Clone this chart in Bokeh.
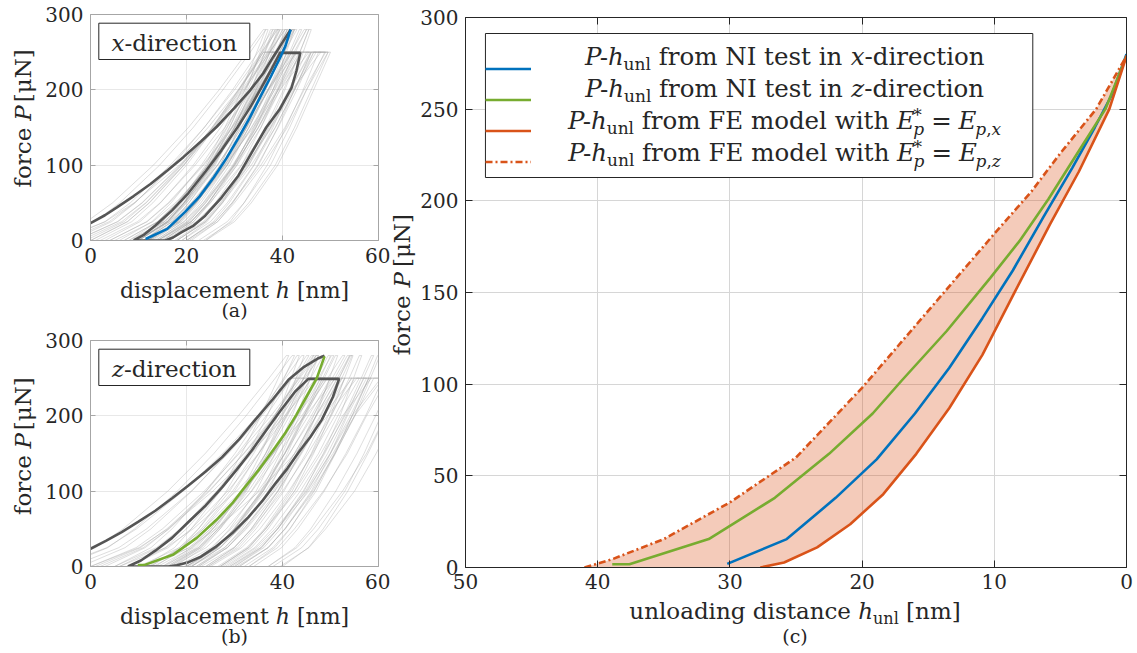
import math
from bokeh.plotting import figure
from bokeh.models import (Range1d, Label, LinearAxis, FixedTicker, BoxAnnotation,
                          Legend, LegendItem)
from bokeh.layouts import row, column
from bokeh.embed import file_html
from bokeh.resources import INLINE

FONT = "DejaVu Serif"
INK = "#262626"
BLUE = "#0072BD"
GREEN = "#77AC30"
RED = "#D95319"
LIGHT = "#a8a8a8"
DARK = "#555555"

# ---------------- data: panel (c) unloading curves ----------------
HUNL_NI_X = [30.2, 25.7, 22.0, 18.9, 16.0, 13.4, 10.9, 8.6, 6.3, 4.1, 2.4, 1.1, 0.0]
P_NI_X = [2.0, 15.5, 38.0, 59.0, 84.0, 109.0, 136.0, 162.0, 191.0, 218.0, 240.0, 258.0, 280.0]
HUNL_NI_Z = [38.9, 37.6, 31.6, 26.6, 22.5, 19.2, 17.0, 13.6, 10.3, 8.1, 5.9, 3.8, 1.6, 0.0]
P_NI_Z = [1.8, 1.8, 15.5, 38.0, 62.0, 84.0, 102.0, 129.0, 158.0, 178.0, 201.0, 225.0, 250.0, 279.0]
HUNL_FE_X = [27.7, 25.9, 23.4, 20.9, 18.4, 15.9, 13.4, 10.9, 8.4, 5.8, 3.6, 1.3, 0.0]
P_FE_X = [0.0, 2.7, 11.0, 23.6, 40.0, 62.0, 87.0, 116.0, 151.0, 187.0, 216.0, 250.0, 279.0]
HUNL_FE_Z = [41.0, 38.9, 35.0, 30.0, 25.0, 20.0, 15.0, 10.0, 7.2, 5.0, 2.3, 0.0]
P_FE_Z = [0.0, 4.5, 15.5, 35.5, 60.0, 98.0, 140.0, 182.0, 205.0, 226.0, 250.0, 279.0]

# maximum indentation depth of the highlighted tests (panels a, b)
HMAX_X = 41.7
HMAX_Z = 48.75

# ---------------- data: panels (a), (b) highlighted tests ----------------
DARK_A1_H = [0.0, 3.0, 5.5, 9.0, 12.5, 16.0, 19.4, 23.0, 26.3, 30.0, 33.2, 36.0, 38.1, 40.0, 41.7]
DARK_A1_P = [23.0, 33.5, 44.0, 59.0, 75.0, 93.0, 111.0, 131.5, 151.0, 176.0, 199.0, 222.0, 244.0, 263.0, 280.0]
DARK_A2_H = [9.0, 11.0, 13.5, 17.0, 20.4, 24.0, 27.3, 30.6, 33.2, 35.6, 37.6, 39.5, 43.7,
             42.9, 41.9, 39.5, 36.6, 33.7, 30.8, 27.3, 23.9, 21.3, 19.0, 17.2, 15.6, 9.0]
DARK_A2_P = [0.0, 7.0, 20.0, 40.0, 63.0, 92.0, 120.0, 150.0, 176.0, 203.0, 226.0, 249.0, 249.0,
             225.0, 203.0, 175.0, 150.0, 118.0, 86.0, 57.0, 33.0, 19.0, 11.0, 4.0, 0.0, 0.0]

DARK_B1_H = [0.0, 3.2, 6.5, 10.0, 13.5, 17.0, 20.4, 24.0, 27.4, 31.0, 34.3, 38.0, 41.25, 44.5, 47.5, 48.75]
DARK_B1_P = [23.5, 34.0, 45.6, 59.5, 74.0, 90.5, 107.5, 126.0, 145.0, 169.0, 194.7, 222.0, 247.8, 265.0, 276.5, 280.0]
DARK_B2_H = [7.8, 10.5, 13.5, 17.0, 20.4, 24.0, 27.4, 30.5, 33.6, 36.5, 39.5, 42.6, 45.4, 51.8,
             50.5, 48.2, 45.8, 43.3, 41.0, 38.5, 35.8, 32.9, 29.5, 26.0, 23.0, 20.4, 18.0, 16.25, 7.8]
DARK_B2_P = [0.0, 8.0, 21.0, 38.0, 59.0, 81.0, 105.0, 129.0, 154.0, 180.0, 206.0, 232.0, 249.0, 249.0,
             225.0, 195.0, 172.0, 151.0, 130.0, 110.0, 87.0, 65.5, 44.0, 25.7, 13.0, 5.8, 1.5, 0.0, 0.0]

# ---------------- data: panels (a), (b) all other tests (light) ----------------
LEVELS_280 = [0, 25, 50, 100, 150, 200, 250, 280]
LEVELS_250 = [0, 25, 50, 100, 150, 200, 250]
UNLOAD_LEVELS = [200, 150, 100, 50, 25, 0]

# (loading h at levels, h at end of hold, unloading h at UNLOAD_LEVELS)
A280 = [
    ([-8, 0.9, 6.1, 14.4, 21.4, 27.6, 33.3, 36.5], 37.0, [32.5, 29.0, 25.0, 19.5, 16.0, 10.0]),
    ([-4, 4.4, 9.3, 17.1, 23.7, 29.6, 34.9, 38.0], 38.5, [32.8, 28.9, 24.3, 18.5, 15.0, 8.5]),
    ([0, 7.7, 12.2, 19.4, 25.4, 30.8, 35.7, 38.5], 39.0, [34.5, 31.0, 27.0, 21.5, 18.0, 12.0]),
    ([3, 10.3, 14.6, 21.4, 27.1, 32.2, 36.8, 39.5], 40.0, [34.3, 30.4, 25.8, 20.0, 16.5, 10.0]),
    ([6, 12.8, 16.8, 23.1, 28.4, 33.2, 37.5, 40.0], 40.5, [36.0, 32.5, 28.5, 23.0, 19.5, 13.5]),
    ([-2, 6.5, 11.5, 19.4, 26.1, 32.0, 37.4, 40.5], 41.0, [34.0, 29.5, 24.5, 18.0, 14.0, 8.0]),
    ([10, 16.2, 19.8, 25.6, 30.5, 34.8, 38.7, 41.0], 41.5, [35.8, 31.9, 27.3, 21.5, 18.0, 11.5]),
    ([13, 18.8, 22.2, 27.6, 32.1, 36.2, 39.9, 42.0], 42.5, [38.0, 34.5, 30.5, 25.0, 21.5, 15.5]),
    ([4, 11.7, 16.2, 23.4, 29.4, 34.8, 39.7, 42.5], 43.0, [36.0, 31.5, 26.5, 20.0, 16.0, 10.0]),
    ([16, 21.5, 24.7, 29.8, 34.2, 38.0, 41.5, 43.5], 44.0, [38.3, 34.4, 29.8, 24.0, 20.5, 14.0]),
    ([8, 15.3, 19.6, 26.4, 32.1, 37.2, 41.8, 44.5], 45.0, [38.0, 33.5, 28.5, 22.0, 18.0, 12.0]),
    ([19, 24.3, 27.4, 32.3, 36.5, 40.2, 43.6, 45.5], 46.0, [41.5, 38.0, 34.0, 28.5, 25.0, 19.0]),
    ([-6, 3.0, 8.3, 16.6, 23.7, 30.0, 35.7, 39.0], 39.5, [33.8, 29.9, 25.3, 19.5, 16.0, 9.5]),
    ([11, 16.3, 19.4, 24.3, 28.5, 32.2, 35.6, 37.5], 38.0, [33.5, 30.0, 26.0, 20.5, 17.0, 11.0]),
    ([-10, -0.8, 4.6, 13.1, 20.4, 26.8, 32.6, 36.0], 36.5, [31.5, 28.0, 24.0, 18.5, 15.0, 9.0]),
    ([1, 8.6, 13.0, 20.0, 25.9, 31.2, 36.0, 38.8], 39.3, [33.3, 29.4, 24.8, 19.0, 15.5, 9.0]),
    ([7, 14.0, 18.1, 24.6, 30.1, 35.0, 39.4, 42.0], 42.5, [37.0, 33.0, 28.5, 22.5, 19.0, 12.5]),
    ([14, 20.2, 23.8, 29.6, 34.5, 38.8, 42.7, 45.0], 45.5, [40.5, 37.0, 33.0, 27.5, 24.0, 18.0]),
    ([-3, 5.7, 10.8, 18.9, 25.7, 31.8, 37.3, 40.5], 41.0, [36.0, 32.5, 28.0, 22.0, 18.5, 12.0]),
    ([9, 15.5, 19.4, 25.5, 30.6, 35.2, 39.4, 41.8], 42.3, [36.3, 32.3, 27.8, 22.0, 18.5, 12.0]),
]
A250 = [
    ([-3, 5.6, 10.7, 18.7, 25.4, 31.5, 37.0], 40.0, [36.5, 33.0, 29.0, 23.5, 20.0, 14.0]),
    ([2, 9.8, 14.5, 21.8, 28.0, 33.5, 38.5], 41.5, [37.0, 33.0, 28.0, 22.0, 18.5, 12.5]),
    ([7, 14.0, 18.1, 24.6, 30.1, 35.0, 39.5], 42.5, [39.0, 35.5, 31.5, 26.0, 22.5, 16.5]),
    ([-7, 3.1, 9.1, 18.5, 26.4, 33.5, 40.0], 43.0, [37.0, 32.5, 27.5, 21.0, 17.0, 11.0]),
    ([12, 18.2, 21.9, 27.7, 32.6, 37.0, 41.0], 44.0, [39.5, 35.5, 30.5, 24.5, 21.0, 15.0]),
    ([5, 13.0, 17.7, 25.1, 31.3, 36.9, 42.0], 45.5, [39.5, 35.0, 30.0, 23.5, 19.5, 13.5]),
    ([15, 21.0, 24.6, 30.2, 34.9, 39.1, 43.0], 46.0, [42.5, 39.0, 35.0, 29.5, 26.0, 20.0]),
    ([9, 16.5, 21.0, 28.0, 33.9, 39.2, 44.0], 47.0, [42.5, 38.5, 33.5, 27.5, 24.0, 18.0]),
    ([18, 23.8, 27.2, 32.7, 37.2, 41.3, 45.0], 48.0, [42.0, 37.5, 32.5, 26.0, 22.0, 16.0]),
    ([21, 26.5, 29.7, 34.8, 39.1, 43.0, 46.5], 49.5, [46.0, 42.5, 38.5, 33.0, 29.5, 23.5]),
    ([14, 20.9, 24.9, 31.4, 36.8, 41.6, 46.0], 49.0, [44.5, 40.5, 35.5, 29.5, 26.0, 20.0]),
    ([0, 7.7, 12.3, 19.5, 25.6, 31.0, 36.0], 39.0, [34.5, 30.5, 25.5, 19.5, 16.0, 10.0]),
    ([24, 29.1, 32.0, 36.8, 40.7, 44.3, 47.5], 50.0, [46.5, 43.0, 39.0, 33.5, 30.0, 24.0]),
    ([10, 16.0, 19.6, 25.2, 29.9, 34.1, 38.0], 41.0, [37.5, 34.0, 30.0, 24.5, 21.0, 15.0]),
    ([-5, 3.9, 9.2, 17.5, 24.5, 30.8, 36.5], 39.5, [35.5, 31.5, 26.5, 20.5, 17.0, 11.0]),
    ([4, 11.8, 16.4, 23.6, 29.6, 35.1, 40.2], 43.5, [39.0, 35.0, 30.0, 24.0, 20.5, 14.5]),
    ([11, 17.9, 21.9, 28.3, 33.6, 38.4, 42.8], 45.8, [41.5, 37.5, 33.0, 27.0, 23.5, 17.5]),
    ([16, 22.6, 26.5, 32.5, 37.7, 42.3, 46.5], 49.5, [45.0, 41.0, 36.0, 30.0, 26.5, 20.5]),
    ([20, 25.6, 28.9, 34.1, 38.5, 42.5, 46.0], 48.8, [45.0, 41.5, 37.5, 32.0, 28.5, 22.5]),
    ([-1, 7.0, 11.6, 19.0, 25.3, 30.9, 36.0], 38.5, [34.5, 31.0, 27.0, 21.5, 18.0, 12.0]),
]
B280 = [
    ([-6, 3.6, 9.2, 18.1, 25.7, 32.4, 38.5, 42.0], 42.5, [36.8, 32.9, 28.3, 22.5, 19.0, 12.5]),
    ([-2, 7.2, 12.6, 21.1, 28.4, 34.8, 40.6, 44.0], 44.5, [40.0, 36.5, 32.5, 27.0, 23.5, 17.5]),
    ([3, 11.4, 16.3, 24.1, 30.7, 36.6, 41.9, 45.0], 45.5, [38.5, 34.0, 29.0, 22.5, 18.5, 12.5]),
    ([8, 15.6, 20.0, 27.1, 33.1, 38.4, 43.2, 46.0], 46.5, [40.8, 36.9, 32.3, 26.5, 23.0, 16.5]),
    ([12, 19.0, 23.1, 29.6, 35.1, 40.0, 44.4, 47.0], 47.5, [43.0, 39.5, 35.5, 30.0, 26.5, 20.5]),
    ([1, 10.4, 15.9, 24.6, 32.0, 38.6, 44.6, 48.0], 48.5, [41.5, 37.0, 32.0, 25.5, 21.5, 15.5]),
    ([16, 22.7, 26.6, 32.9, 38.1, 42.8, 47.1, 49.5], 50.0, [44.3, 40.4, 35.8, 30.0, 26.5, 20.0]),
    ([20, 26.2, 29.8, 35.6, 40.5, 44.8, 48.7, 51.0], 51.5, [47.0, 43.5, 39.5, 34.0, 30.5, 24.5]),
    ([10, 18.5, 23.5, 31.4, 38.1, 44.0, 49.4, 52.5], 53.0, [46.0, 41.5, 36.5, 30.0, 26.0, 20.0]),
    ([24, 30.0, 33.5, 39.1, 43.8, 48.0, 51.8, 54.0], 54.5, [48.8, 44.9, 40.3, 34.5, 31.0, 24.5]),
    ([27, 32.8, 36.2, 41.6, 46.1, 50.2, 53.9, 56.0], 56.5, [52.0, 48.5, 44.5, 39.0, 35.5, 29.5]),
    ([30, 35.7, 39.0, 44.3, 48.8, 52.8, 56.4, 58.5], 59.0, [53.3, 49.4, 44.8, 39.0, 35.5, 29.0]),
    ([5, 12.6, 17.0, 24.1, 30.1, 35.4, 40.2, 43.0], 43.5, [39.0, 35.5, 31.5, 26.0, 22.5, 16.5]),
    ([18, 25.1, 29.3, 35.9, 41.4, 46.4, 50.9, 53.5], 54.0, [47.0, 42.5, 37.5, 31.0, 27.0, 21.0]),
    ([-9, 1.0, 6.8, 16.1, 23.9, 30.8, 37.2, 40.8], 41.3, [35.5, 31.5, 27.0, 21.0, 17.5, 11.0]),
    ([6, 14.1, 18.8, 26.3, 32.6, 38.3, 43.4, 46.4], 46.9, [42.0, 38.5, 34.5, 29.0, 25.5, 19.5]),
    ([14, 21.2, 25.5, 32.2, 37.9, 43.0, 47.5, 50.2], 50.7, [44.5, 40.5, 36.0, 30.0, 26.5, 20.0]),
    ([22, 28.5, 32.3, 38.3, 43.3, 47.8, 51.8, 54.2], 54.7, [50.0, 46.5, 42.5, 37.0, 33.5, 27.5]),
    ([33, 38.4, 41.6, 46.6, 50.8, 54.5, 57.9, 59.8], 60.3, [55.0, 51.0, 46.5, 40.5, 37.0, 30.5]),
    ([0, 9.5, 15.0, 23.7, 31.0, 37.6, 43.6, 47.0], 47.5, [41.0, 36.5, 31.5, 25.0, 21.0, 15.0]),
]
B250 = [
    ([-4, 5.9, 11.7, 21.0, 28.7, 35.7, 42.0], 45.0, [40.5, 36.5, 31.5, 25.5, 22.0, 16.0]),
    ([2, 11.0, 16.4, 24.8, 31.9, 38.2, 44.0], 47.0, [43.5, 40.0, 36.0, 30.5, 27.0, 21.0]),
    ([8, 16.2, 21.0, 28.6, 35.0, 40.8, 46.0], 49.0, [43.0, 38.5, 33.5, 27.0, 23.0, 17.0]),
    ([13, 20.5, 25.0, 32.0, 37.9, 43.2, 48.0], 51.5, [47.0, 43.0, 38.0, 32.0, 28.5, 22.5]),
    ([17, 24.1, 28.3, 34.9, 40.5, 45.4, 50.0], 53.0, [49.5, 46.0, 42.0, 36.5, 33.0, 27.0]),
    ([6, 15.7, 21.4, 30.4, 38.0, 44.8, 51.0], 54.5, [48.5, 44.0, 39.0, 32.5, 28.5, 22.5]),
    ([21, 27.9, 31.9, 38.4, 43.8, 48.6, 53.0], 56.0, [51.5, 47.5, 42.5, 36.5, 33.0, 27.0]),
    ([25, 31.5, 35.3, 41.3, 46.3, 50.9, 55.0], 58.0, [54.5, 51.0, 47.0, 41.5, 38.0, 32.0]),
    ([28, 34.2, 37.9, 43.7, 48.6, 53.0, 57.0], 60.5, [54.5, 50.0, 45.0, 38.5, 34.5, 28.5]),
    ([31, 37.0, 40.6, 46.2, 50.9, 55.1, 59.0], 62.0, [57.5, 53.5, 48.5, 42.5, 39.0, 33.0]),
    ([34, 39.8, 43.2, 48.7, 53.2, 57.3, 61.0], 64.0, [60.5, 57.0, 53.0, 47.5, 44.0, 38.0]),
    ([11, 20.6, 26.2, 35.2, 42.6, 49.4, 55.5], 58.5, [52.5, 48.0, 43.0, 36.5, 32.5, 26.5]),
    ([37, 42.6, 45.9, 51.1, 55.5, 59.4, 63.0], 66.0, [61.5, 57.5, 52.5, 46.5, 43.0, 37.0]),
    ([0, 10.1, 16.1, 25.5, 33.4, 40.5, 47.0], 50.0, [46.5, 43.0, 39.0, 33.5, 30.0, 24.0]),
    ([-7, 3.4, 9.6, 19.3, 27.5, 34.8, 41.5], 44.5, [39.5, 35.0, 30.0, 23.5, 19.5, 13.5]),
    ([5, 13.7, 18.8, 26.8, 33.6, 39.7, 45.3], 48.3, [44.5, 41.0, 37.0, 31.5, 28.0, 22.0]),
    ([15, 22.4, 26.7, 33.6, 39.3, 44.5, 49.2], 52.5, [47.0, 42.5, 37.5, 31.0, 27.0, 21.0]),
    ([23, 29.8, 33.7, 40.0, 45.3, 50.0, 54.3], 57.5, [53.5, 50.0, 46.0, 40.5, 37.0, 31.0]),
    ([30, 36.1, 39.6, 45.2, 49.9, 54.1, 58.0], 61.0, [55.0, 50.5, 45.5, 39.0, 35.0, 29.0]),
    ([40, 45.4, 48.5, 53.6, 57.8, 61.6, 65.0], 68.0, [63.5, 59.5, 55.0, 49.0, 45.5, 39.5]),
]

# tick labels
AB_XTICKS = [0, 20, 40, 60]
AB_YTICKS = [0, 100, 200, 300]
C_XTICKS = [0, 10, 20, 30, 40, 50]
C_YTICKS = [0, 50, 100, 150, 200, 250, 300]

# ---------------- text helpers ----------------
CW = {' ': 0.318, 'a': 0.596, 'b': 0.640, 'c': 0.560, 'd': 0.640, 'e': 0.592, 'f': 0.370,
      'g': 0.640, 'h': 0.644, 'i': 0.320, 'j': 0.310, 'k': 0.606, 'l': 0.320, 'm': 0.948,
      'n': 0.644, 'o': 0.602, 'p': 0.640, 'q': 0.640, 'r': 0.478, 's': 0.513, 't': 0.402,
      'u': 0.644, 'v': 0.565, 'w': 0.856, 'x': 0.564, 'y': 0.565, 'z': 0.530, '-': 0.338,
      '[': 0.390, ']': 0.390, '(': 0.390, ')': 0.390, '=': 0.838, '*': 0.500, ',': 0.318,
      'μ': 0.660, 'N': 0.748, 'I': 0.372, 'E': 0.683, 'F': 0.637, 'P': 0.603}
MID = 0.31  # distance from baseline to the text middle, in em


def tw(t, size):
    return sum(CW.get(c, 0.6) for c in t) * size


def to_data(fr, px, py):
    x0, x1, y0, y1, fw, fh = fr
    return x0 + px * (x1 - x0) / fw, y0 + py * (y1 - y0) / fh


def add_label(p, x, y, t, size, style, angle=0.0, align="left"):
    p.add_layout(Label(x=x, y=y, text=t, text_font=FONT, text_font_size=f"{size}px",
                       text_font_style=style, text_color=INK, text_align=align,
                       text_baseline="middle", angle=angle))


def seg(t, s, st="normal", dy=0, adv=True, pre=0.0):
    return (t, s, st, dy, adv, pre)


def split_spaces(t, s):
    lead = len(t) - len(t.lstrip(" "))
    return tw(" " * lead, s), t.strip(" ")


def seg_total(segs):
    return sum((tw(t, s) if adv else 0.0) + pre for t, s, st, dy, adv, pre in segs)


def rich_h(p, fr, cx, base, segs):
    """horizontal rich text; cx = centre, base = baseline (pixels from frame bottom)"""
    u = cx - seg_total(segs) / 2.0
    for t, s, st, dy, adv, pre in segs:
        u += pre
        off, core = split_spaces(t, s)
        x, y = to_data(fr, u + off, base + dy + MID * s)
        add_label(p, x, y, core, s, st)
        if adv:
            u += tw(t, s)


def force_label(p, fr, base, cy, size=23, gap=8.5):
    """'force P [μN]' reading upwards, anchored on the italic P"""
    total = tw("force", size) + gap + tw("P", size) + gap + tw("[μN]", size)
    anchor = cy - total / 2.0 + tw("force", size) + gap
    xb = base - MID * size
    x, y = to_data(fr, xb, anchor - gap)
    add_label(p, x, y, "force", size, "normal", angle=math.pi / 2, align="right")
    x, y = to_data(fr, xb, anchor)
    add_label(p, x, y, "P", size, "italic", angle=math.pi / 2)
    x, y = to_data(fr, xb, anchor + tw("P", size) + gap)
    add_label(p, x, y, "[μN]", size, "normal", angle=math.pi / 2)


def text_fig(w, h):
    f = figure(width=w, height=h, x_range=Range1d(0, w), y_range=Range1d(0, h),
               output_backend="svg", toolbar_location=None,
               x_axis_location=None, y_axis_location=None,
               min_border_left=0, min_border_right=0, min_border_top=0, min_border_bottom=0)
    f.outline_line_color = None
    f.xgrid.visible = False
    f.ygrid.visible = False
    return f, (0, w, 0, h, w, h)


def style_axes(p, xt, yt, col, tick_len, grid_col, xstand=7):
    for ax in (p.xaxis[0], p.yaxis[0]):
        ax.axis_line_color = col
        ax.major_tick_line_color = col
        ax.major_tick_in = tick_len
        ax.major_tick_out = 0
        ax.minor_tick_line_color = None
        ax.major_label_text_font = FONT
        ax.major_label_text_font_size = "20px"
        ax.major_label_text_color = INK
    p.xaxis[0].major_label_standoff = xstand
    p.yaxis[0].major_label_standoff = 7
    p.xaxis[0].ticker = FixedTicker(ticks=xt)
    p.yaxis[0].ticker = FixedTicker(ticks=yt)
    p.xgrid[0].ticker = FixedTicker(ticks=xt)
    p.ygrid[0].ticker = FixedTicker(ticks=yt)
    p.xgrid.grid_line_color = grid_col
    p.ygrid.grid_line_color = grid_col
    for place, ticks in (("above", xt), ("right", yt)):
        ax = LinearAxis(ticker=FixedTicker(ticks=ticks), axis_line_color=col,
                        major_tick_line_color=col, major_tick_in=tick_len, major_tick_out=0,
                        minor_tick_line_color=None, major_label_text_font_size="1px",
                        major_label_text_color=None, major_label_standoff=0)
        p.add_layout(ax, place)
    p.outline_line_color = None


def light_paths(g280, g250):
    xs, ys = [], []
    for load, hold, unload in g280:
        xs.append(list(load) + [hold] + list(unload))
        ys.append(LEVELS_280 + [280] + UNLOAD_LEVELS)
    for load, hold, unload in g250:
        xs.append(list(load) + [hold] + list(unload))
        ys.append(LEVELS_250 + [250] + UNLOAD_LEVELS)
    return xs, ys


def small_block(h_main, top_b, h_lab, g280, g250, d1, d2, main_h, main_p, main_col,
                letter, caption, lab_base, cap_mid):
    p = figure(width=350, height=h_main, x_range=Range1d(0, 60), y_range=Range1d(0, 300),
               output_backend="svg", toolbar_location=None,
               min_border_left=50, min_border_right=12, min_border_top=top_b,
               min_border_bottom=35)
    style_axes(p, AB_XTICKS, AB_YTICKS, "#a6a6a6", 5, "#e8e8e8")
    xs, ys = light_paths(g280, g250)
    p.multi_line(xs, ys, line_color=LIGHT, line_alpha=0.42, line_width=0.9)
    p.line(d1[0], d1[1], line_color=DARK, line_width=2.6)
    p.line(d2[0], d2[1], line_color=DARK, line_width=2.6)
    p.line(main_h, main_p, line_color=main_col, line_width=2.6)

    fr = (0, 60, 0, 300, 288, 226)
    bl, bt = to_data(fr, 8.3, 217.3)
    br, bb = to_data(fr, 159.3, 181.0)
    p.add_layout(BoxAnnotation(left=bl, right=br, top=bt, bottom=bb, fill_color="white",
                               fill_alpha=1.0, line_color=INK, line_alpha=1.0, line_width=1))
    rich_h(p, fr, 83.8, 190, [seg(letter, 23, "italic"), seg("-direction", 23)])

    yl, fry = text_fig(40, h_main)
    force_label(yl, fry, 30, h_main - top_b - 113)

    xl, frx = text_fig(390, h_lab)
    rich_h(xl, frx, 234, lab_base,
           [seg("displacement ", 22), seg("h", 22, "italic"), seg(" [nm]", 22)])
    add_label(xl, 234, cap_mid, caption, 19, "normal", align="center")
    return column(row(yl, p), xl)


block_a = small_block(275, 14, 47, A280, A250, (DARK_A1_H, DARK_A1_P), (DARK_A2_H, DARK_A2_P),
                      [HMAX_X - v for v in HUNL_NI_X], P_NI_X, BLUE, "x", "(a)", 25, 13)
block_b = small_block(279, 18, 49, B280, B250, (DARK_B1_H, DARK_B1_P), (DARK_B2_H, DARK_B2_P),
                      [HMAX_Z - v for v in HUNL_NI_Z], P_NI_Z, GREEN, "z", "(b)", 27, 15)

# ---------------- panel (c) ----------------
pc = figure(width=717, height=599, x_range=Range1d(50, 0), y_range=Range1d(0, 300),
            output_backend="svg", toolbar_location=None,
            min_border_left=46, min_border_right=8, min_border_top=17, min_border_bottom=32)
style_axes(pc, C_XTICKS, C_YTICKS, INK, 7, "#d6d6d6", xstand=6)

band_x = HUNL_FE_Z + HUNL_FE_X[::-1]
band_y = P_FE_Z + P_FE_X[::-1]
pc.patch(band_x, band_y, fill_color=RED, fill_alpha=0.3, line_color=None)
r1 = pc.line(HUNL_NI_X, P_NI_X, line_color=BLUE, line_width=2.6)
r2 = pc.line(HUNL_NI_Z, P_NI_Z, line_color=GREEN, line_width=2.6)
r3 = pc.line(HUNL_FE_X, P_FE_X, line_color=RED, line_width=2.6)
r4 = pc.line(HUNL_FE_Z, P_FE_Z, line_color=RED, line_width=2.6, line_dash="7 3 2 3")

frc = (50, 0, 0, 300, 663, 550)
lbl, lbt = to_data(frc, 20, 534)
lbr, lbb = to_data(frc, 569, 390)
pc.add_layout(BoxAnnotation(left=lbl, right=lbr, top=lbt, bottom=lbb, fill_color="white",
                            fill_alpha=1.0, line_color=INK, line_alpha=1.0, line_width=1))
legend = Legend(items=[LegendItem(label=" ", renderers=[r]) for r in (r1, r2, r3, r4)],
                location=(20, 390), orientation="vertical", padding=10, spacing=0, margin=0,
                glyph_width=46, glyph_height=31, label_height=31, label_width=478,
                label_standoff=5, label_text_font_size="1px", label_text_color=None,
                border_line_color=None, background_fill_alpha=0.0)
pc.add_layout(legend, "center")

LS = 24.5
SS = 17
PH = [seg("P", LS, "italic"), seg("-", LS), seg("h", LS, "italic"), seg("unl", SS, dy=-5)]


def fe_row(comp):
    return PH + [seg(" from FE model with ", LS), seg("E", LS, "italic", pre=3),
                 seg("*", SS, dy=8, adv=False), seg("p", SS, "italic", dy=-6),
                 seg("=", LS, pre=7), seg("E", LS, "italic", pre=7), seg("p", SS, "italic", dy=-6),
                 seg(",", SS, dy=-6), seg(comp, SS, "italic", dy=-6)]


def ni_row(comp):
    return PH + [seg(" from NI test in ", LS), seg(comp, LS, "italic", pre=5),
                 seg("-direction", LS)]


rows = [ni_row("x"), ni_row("z"), fe_row("x"), fe_row("z")]
for segs, base in zip(rows, [503, 471, 439, 407]):
    rich_h(pc, frc, 320, base, segs)

ylc, fryc = text_fig(27, 599)
force_label(ylc, fryc, 19, 599 - 17 - 275)
xlc, frxc = text_fig(744, 51)
rich_h(xlc, frxc, 404.5, 32, [seg("unloading distance ", 23), seg("h", 23, "italic"),
                              seg("unl", 16, dy=-5), seg(" [nm]", 23)])
add_label(xlc, 404.5, 15, "(c)", 19, "normal", align="center")

block_c = column(row(ylc, pc), xlc)
layout = row(column(block_a, block_b), block_c)
open("out.html", "w").write(file_html(layout, INLINE, "indentation"))
